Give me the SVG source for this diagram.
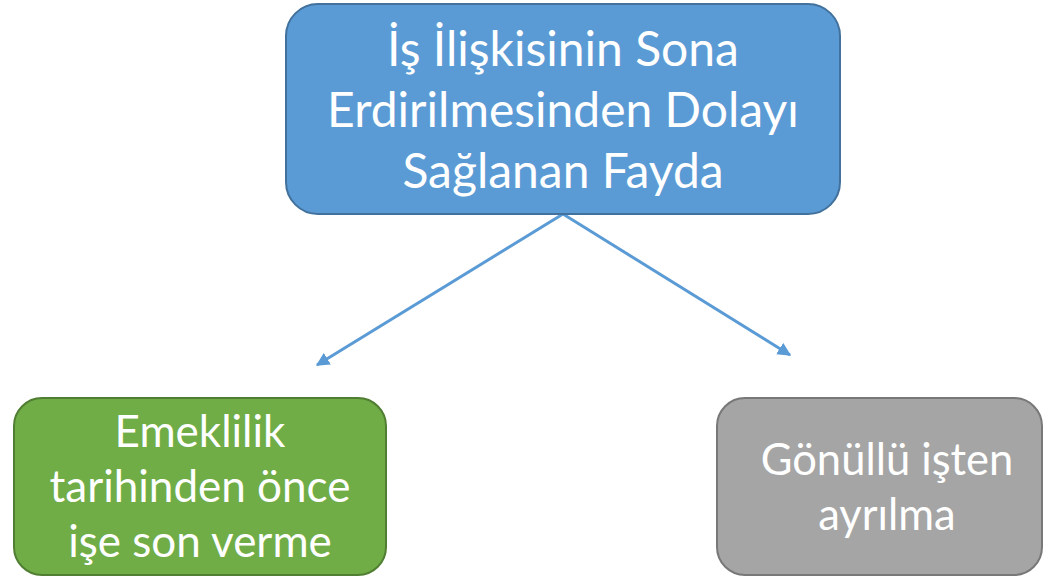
<svg xmlns="http://www.w3.org/2000/svg" width="1044" height="577" viewBox="0 0 1044 577">
<style>
.t{font-family:Lato,"Open Sans","Liberation Sans",sans-serif;fill:#fff;text-anchor:middle}
.c{stroke:#5B9BD5;stroke-width:3;fill:none}
</style>
<defs>
<marker id="ah" viewBox="0 0 10 10" refX="9" refY="5" markerWidth="4.5" markerHeight="4.5" orient="auto" markerUnits="strokeWidth">
<path d="M0,0 L10,5 L0,10 z" fill="#5B9BD5"/>
</marker>
</defs>
<rect width="1044" height="577" fill="#fff"/>
<g id="connectors">
<line class="c" x1="563" y1="214" x2="317" y2="365" marker-end="url(#ah)"/>
<line class="c" x1="563" y1="214" x2="790" y2="355" marker-end="url(#ah)"/>
</g>
<g id="top">
<rect x="286" y="4" width="554" height="210" rx="32" fill="#5B9BD5" stroke="#41719C" stroke-width="2"/>
<text class="t" font-size="48" x="563" y="66">İş İlişkisinin Sona</text>
<text class="t" font-size="48" x="563" y="127">Erdirilmesinden Dolayı</text>
<text class="t" font-size="48" x="563" y="188">Sağlanan Fayda</text>
</g>
<g id="left">
<rect x="14" y="398" width="372" height="177" rx="28" fill="#70AD47" stroke="#507E32" stroke-width="2"/>
<text class="t" font-size="44" x="200" y="447">Emeklilik</text>
<text class="t" font-size="44" x="200" y="502">tarihinden önce</text>
<text class="t" font-size="44" x="200" y="557">işe son verme</text>
</g>
<g id="right">
<rect x="717" y="398" width="325" height="177" rx="28" fill="#A5A5A5" stroke="#787878" stroke-width="2"/>
<text class="t" font-size="43.5" x="887" y="475">Gönüllü işten</text>
<text class="t" font-size="43.5" x="887" y="530">ayrılma</text>
</g>
</svg>
